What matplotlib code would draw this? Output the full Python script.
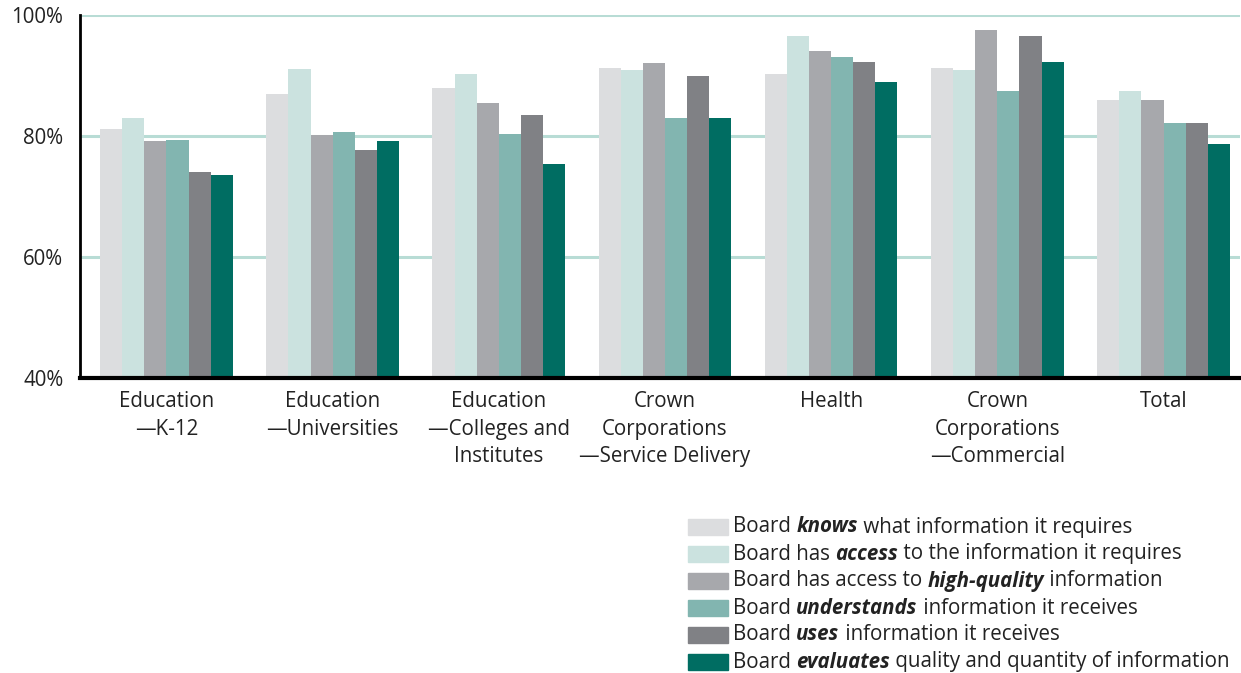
import matplotlib.pyplot as plt
import matplotlib.patches as mpatches
import numpy as np

plt.rcParams['font.family'] = ['Open Sans', 'DejaVu Sans']

# Data
categories = ["Education\n\u2014K-12", "Education\n\u2014Universities",
              "Education\n\u2014Colleges and\nInstitutes",
              "Crown\nCorporations\n\u2014Service Delivery", "Health",
              "Crown\nCorporations\n\u2014Commercial", "Total"]

knows = [81.1, 87.0, 88.0, 91.2, 90.2, 91.2, 86.0]
access = [82.9, 91.0, 90.3, 90.9, 96.5, 90.9, 87.5]
high_quality = [79.1, 80.2, 85.5, 92.0, 94.1, 97.6, 86.0]
understands = [79.4, 80.6, 80.4, 83.0, 93.0, 87.5, 82.1]
uses = [74.1, 77.7, 83.5, 89.9, 92.2, 96.6, 82.1]
evaluates = [73.6, 79.2, 75.3, 83.0, 89.0, 92.3, 78.6]

series = [knows, access, high_quality, understands, uses, evaluates]
colors = ['#dcdddf', '#cbe2df', '#a7a8ac', '#82b5b0', '#808185', '#006d62']

# legend text pieces: (text, bold italic?)
legend_rows = [
    [("Board ", False), ("knows", True), (" what information it requires", False)],
    [("Board has ", False), ("access", True), (" to the information it requires", False)],
    [("Board has access to ", False), ("high-quality", True), (" information", False)],
    [("Board ", False), ("understands", True), (" information it receives", False)],
    [("Board ", False), ("uses", True), (" information it receives", False)],
    [("Board ", False), ("evaluates", True), (" quality and quantity of information", False)],
]

W, H = 1241, 673
FS = 14.8
fig = plt.figure(figsize=(W / 100, H / 100), dpi=100)
ax = fig.add_axes([80 / W, 1 - 378 / H, (1240 - 80) / W, (378 - 15) / H])

x = np.arange(len(categories))
bw = 0.133
for i, (vals, c) in enumerate(zip(series, colors)):
    ax.bar(x + (i - 2.5) * bw, np.array(vals) - 40, bottom=40, width=bw,
           color=c, linewidth=0, zorder=3)

ax.set_ylim(40, 100)
ax.set_xlim(-0.52, 6.46)
ax.set_yticks([40, 60, 80, 100])
ax.set_yticklabels(["40%", "60%", "80%", "100%"], fontsize=FS, color='#222222')
ax.set_xticks(x)
ax.set_xticklabels(categories, fontsize=FS, color='#222222', linespacing=1.4)
ax.tick_params(axis='both', length=0)
ax.tick_params(axis='y', pad=12)
ax.tick_params(axis='x', pad=9.5)

for yv in [60, 80, 100]:
    ax.axhline(yv, color='#b8dcd5', linewidth=2.2, zorder=1)

for s in ['top', 'right']:
    ax.spines[s].set_visible(False)
ax.spines['left'].set_linewidth(2)
ax.spines['bottom'].set_linewidth(3)
ax.spines['left'].set_zorder(4)
ax.spines['bottom'].set_zorder(4)

# legend drawn by hand so that one word per row can be bold italic
row_y = [527, 554, 581, 608, 635, 662]
for row, yc, c in zip(legend_rows, row_y, colors):
    fig.patches.append(mpatches.Rectangle((688 / W, 1 - (yc + 8) / H), 40 / W, 16 / H,
                                          transform=fig.transFigure, color=c))
    prev = None
    for txt, bold in row:
        kw = dict(fontsize=FS, color='#222222', va='center', ha='left')
        if bold:
            kw.update(fontweight='bold', fontstyle='italic')
        if prev is None:
            prev = fig.text(733 / W, 1 - yc / H, txt, **kw)
        else:
            prev = ax.annotate(txt, xy=(1, 0.5), xycoords=prev, annotation_clip=False, **kw)

fig.savefig("out.png", dpi=100)
